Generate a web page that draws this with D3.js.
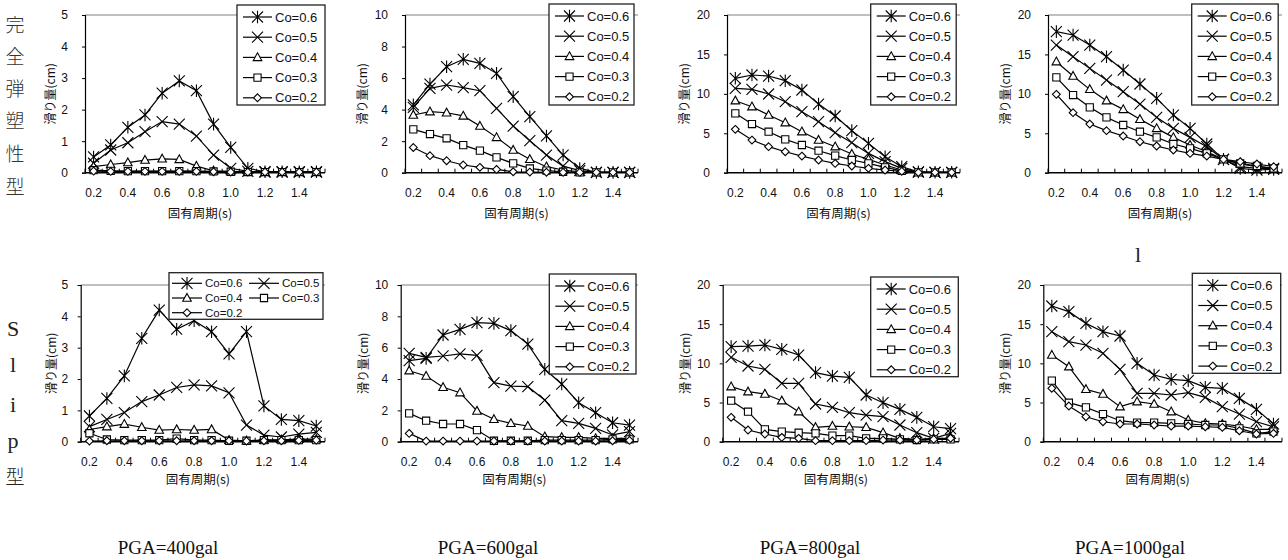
<!DOCTYPE html>
<html><head><meta charset="utf-8">
<script src="https://cdn.jsdelivr.net/npm/d3@7"></script>
<style>body{margin:0;background:#fff}svg{display:block}</style>
</head><body><svg id="c" width="1288" height="560"></svg>
<script>
// ---------------- data ----------------
const periods = ["0.2","0.3","0.4","0.5","0.6","0.7","0.8","0.9","1.0","1.1","1.2","1.3","1.4","1.5"];
const xTickLabels = ["0.2","0.4","0.6","0.8","1.0","1.2","1.4"];
const seriesNames = ["Co=0.6","Co=0.5","Co=0.4","Co=0.3","Co=0.2"];
const yMaxes = [5, 10, 20, 20, 5, 10, 20, 20];
const yTicks5 = [0, 1, 2, 3, 4, 5];
const yTicks10 = [0, 2, 4, 6, 8, 10];
const yTicks20 = [0, 5, 10, 15, 20];
const xTitle = "固有周期(s)";
const yTitle = "滑り量(cm)";
const rowLabelTop = ["完","全","弾","塑","性","型"];
const rowLabelBottom = ["S","l","i","p","型"];
const pgaLabels = ["PGA=400gal","PGA=600gal","PGA=800gal","PGA=1000gal"];
const strayLabel = "l";

// 完全弾塑性型 (elastic-perfectly-plastic)
const ep400 = [
  [0.50,0.88,1.44,1.83,2.52,2.91,2.60,1.54,0.80,0.14,0.03,0.03,0.03,0.03],
  [0.30,0.72,0.95,1.30,1.62,1.54,1.16,0.56,0.14,0.04,0.02,0.02,0.02,0.02],
  [0.19,0.26,0.32,0.40,0.44,0.42,0.21,0.06,0.04,0.03,0.02,0.02,0.02,0.02],
  [0.08,0.06,0.05,0.05,0.05,0.05,0.05,0.04,0.03,0.02,0.02,0.02,0.02,0.02],
  [0.05,0.04,0.04,0.04,0.04,0.04,0.04,0.03,0.02,0.02,0.02,0.02,0.02,0.02]];
const ep600 = [
  [4.30,5.62,6.72,7.19,6.93,6.30,4.82,3.55,2.33,1.12,0.27,0.02,0.02,0.02],
  [4.14,5.35,5.56,5.39,5.20,4.08,2.96,2.03,1.12,0.42,0.13,0.02,0.02,0.02],
  [3.66,3.87,3.80,3.60,2.96,2.24,1.44,0.85,0.38,0.17,0.06,0.02,0.02,0.02],
  [2.75,2.45,2.18,1.75,1.40,0.97,0.59,0.27,0.13,0.06,0.02,0.02,0.02,0.02],
  [1.60,1.08,0.76,0.49,0.34,0.21,0.06,0.04,0.03,0.02,0.02,0.02,0.02,0.02]];
const ep800 = [
  [11.97,12.39,12.26,11.67,10.49,8.71,7.19,5.33,3.72,2.03,0.76,0.10,0.05,0.05],
  [10.70,10.57,9.98,9.00,7.74,6.47,5.07,3.81,2.45,1.40,0.55,0.08,0.05,0.05],
  [9.13,8.37,7.31,6.34,5.20,4.14,3.30,2.37,1.69,0.97,0.34,0.05,0.03,0.03],
  [7.53,6.17,5.20,4.23,3.51,2.79,2.16,1.61,1.18,0.68,0.25,0.04,0.03,0.03],
  [5.50,4.14,3.30,2.66,2.11,1.61,1.18,0.85,0.55,0.34,0.17,0.03,0.03,0.03]];
const ep1000 = [
  [17.89,17.46,16.19,14.71,13.02,11.25,9.43,7.31,5.62,3.64,1.69,0.55,0.34,0.42],
  [16.19,14.71,13.23,11.75,10.27,8.71,7.02,5.62,4.48,3.30,1.69,0.76,0.55,0.55],
  [14.08,12.26,10.57,9.13,8.03,6.77,5.62,4.48,3.51,2.66,1.69,1.10,0.76,0.55],
  [12.09,9.85,8.29,7.02,6.05,5.20,4.48,3.64,3.09,2.45,1.69,1.18,0.85,0.55],
  [9.94,7.61,6.17,5.33,4.65,3.93,3.38,2.88,2.45,2.11,1.69,1.40,1.10,0.76]];
// Slip型
const sl400 = [
  [0.82,1.38,2.10,3.30,4.20,3.59,3.86,3.51,2.80,3.51,1.14,0.71,0.67,0.50],
  [0.48,0.71,0.93,1.28,1.49,1.73,1.81,1.78,1.56,0.53,0.21,0.15,0.24,0.30],
  [0.39,0.48,0.56,0.46,0.37,0.39,0.37,0.39,0.05,0.03,0.05,0.06,0.08,0.08],
  [0.27,0.07,0.05,0.05,0.05,0.10,0.05,0.05,0.03,0.03,0.05,0.05,0.05,0.05],
  [0.02,0.03,0.03,0.03,0.03,0.03,0.03,0.03,0.03,0.02,0.03,0.03,0.04,0.05]];
const sl600 = [
  [5.17,5.32,6.81,7.17,7.60,7.55,7.09,6.23,4.62,3.68,2.49,1.85,1.21,1.06],
  [5.64,5.38,5.47,5.60,5.51,3.77,3.55,3.51,2.66,1.34,1.17,0.85,0.43,0.64],
  [4.53,4.19,3.47,3.13,1.96,1.43,1.17,1.00,0.32,0.28,0.28,0.21,0.21,0.21],
  [1.81,1.34,1.13,1.13,0.74,0.06,0.06,0.06,0.10,0.10,0.10,0.10,0.15,0.15],
  [0.53,0.04,0.04,0.04,0.04,0.04,0.04,0.04,0.04,0.04,0.04,0.04,0.06,0.08]];
const sl800 = [
  [12.13,12.21,12.34,11.79,11.06,8.81,8.38,8.21,5.96,4.98,4.13,3.11,1.91,1.66],
  [10.77,9.66,9.23,7.45,7.45,4.81,4.38,3.70,3.40,3.19,2.13,1.15,0.43,1.06],
  [7.02,6.38,6.09,5.23,3.83,1.83,2.00,1.91,1.83,1.15,0.43,0.30,0.43,0.43],
  [5.23,3.83,1.57,1.28,1.15,1.06,0.77,0.77,0.43,0.43,0.30,0.21,0.30,0.30],
  [3.11,1.49,0.98,0.55,0.43,0.13,0.13,0.13,0.13,0.21,0.21,0.21,0.30,0.43]];
const sl1000 = [
  [17.32,16.60,15.10,14.04,13.49,10.00,8.51,7.96,7.79,6.94,6.81,5.53,4.13,2.26],
  [14.04,12.77,12.34,11.28,9.23,6.17,6.17,5.96,6.26,5.66,4.47,3.53,2.55,1.91],
  [11.06,9.57,6.68,6.09,4.47,5.11,4.81,3.83,2.77,2.34,2.26,2.00,1.57,1.57],
  [7.79,4.98,4.38,3.53,2.68,2.43,2.43,2.34,2.26,2.13,2.13,1.70,1.06,1.28],
  [6.81,4.55,3.19,2.55,2.26,2.26,2.13,2.00,2.00,1.91,1.83,1.40,0.98,1.06]];

const panelData = [ep400, ep600, ep800, ep1000, sl400, sl600, sl800, sl1000];
const panelTicks = [yTicks5, yTicks10, yTicks20, yTicks20, yTicks5, yTicks10, yTicks20, yTicks20];

// ---------------- layout ----------------
const layout = [
  {l:85,   r:325,  t:15,  b:172.7, gap:17,   lg:{x:237,   y:5,     w:88,  h:100, rows:1}},
  {l:405,  r:638,  t:15,  b:172.7, gap:17,   lg:{x:549,   y:4,     w:85,  h:101, rows:1}},
  {l:727,  r:960,  t:15,  b:172.7, gap:17,   lg:{x:870.7, y:4,     w:85.5,h:101, rows:1}},
  {l:1048, r:1282, t:15,  b:172.7, gap:17,   lg:{x:1191.7,y:4,     w:86.5,h:101, rows:1}},
  {l:80.7, r:325,  t:285, b:441.7, gap:12.4, lg:{x:169,   y:272.7, w:154, h:46.6,rows:3}},
  {l:400.7,r:638,  t:285, b:441.7, gap:12.4, lg:{x:549.3, y:274,   w:86.7,h:100, rows:1}},
  {l:722.7,r:959,  t:285, b:441.7, gap:12.4, lg:{x:870.7, y:277,   w:87.6,h:99.7,rows:1}},
  {l:1043.3,r:1282,t:285, b:441.7, gap:12.4, lg:{x:1192.3,y:273.3, w:88.4,h:100, rows:1}}
];
const pgaX = [168, 488, 810, 1130];
const latin = "'Liberation Sans', Arial, sans-serif";
const cjk = "'Noto Sans CJK JP', 'Liberation Sans', sans-serif";
const serif = "'Liberation Serif', 'Times New Roman', serif";

const svg = d3.select("#c");

function markerPath(i) {
  switch (i) {
    case 0: { const s = 5.5; return `M${-s},${-s}L${s},${s}M${-s},${s}L${s},${-s}M0,${-s-0.8}L0,${s+0.8}`; }
    case 1: { const s = 5.5; return `M${-s},${-s}L${s},${s}M${-s},${s}L${s},${-s}`; }
    case 2: return "M0,-4.6L4.3,3.2L-4.3,3.2Z";
    case 3: return "M-3.6,-3.6H3.6V3.6H-3.6Z";
    default: return "M0,-3.9L3.9,0L0,3.9L-3.9,0Z";
  }
}

panelData.forEach((data, pi) => {
  const L = layout[pi];
  const g = svg.append("g");
  const x = d3.scalePoint().domain(periods).range([L.l, L.r]).padding(0.5);
  const y = d3.scaleLinear().domain([0, yMaxes[pi]]).range([L.b, L.t]);
  const step = x.step();

  // plot frame top (gray)
  g.append("line").attr("x1", L.l).attr("x2", L.r).attr("y1", L.t).attr("y2", L.t)
    .attr("stroke", "#808080").attr("stroke-width", 1.2);

  // y axis
  const yAxis = d3.axisLeft(y).tickValues(panelTicks[pi]).tickSize(3).tickPadding(L.gap - 3)
    .tickFormat(d3.format("d"));
  const ya = g.append("g").attr("transform", `translate(${L.l},0)`).call(yAxis);
  ya.select(".domain").attr("stroke", "#000").attr("stroke-width", 1.2);
  ya.selectAll(".tick line").attr("stroke", "#000");
  ya.selectAll(".tick text").attr("font-family", latin).attr("font-size", 12).attr("fill", "#111");

  // x axis (category axis: ticks between categories, labels every other)
  const xa = g.append("g").attr("transform", `translate(0,${L.b})`);
  xa.append("line").attr("x1", L.l).attr("x2", L.r).attr("stroke", "#000").attr("stroke-width", 1.6);
  const bounds = d3.range(periods.length + 1).map(i => L.l + i * step + (x(periods[0]) - step / 2 - L.l));
  xa.selectAll("line.tk").data(bounds).join("line").attr("class", "tk")
    .attr("x1", d => d).attr("x2", d => d).attr("y1", 0).attr("y2", -4)
    .attr("stroke", "#000").attr("stroke-width", 1);
  xa.selectAll("text").data(xTickLabels).join("text")
    .attr("x", d => x(d)).attr("y", 24).attr("text-anchor", "middle")
    .attr("font-family", latin).attr("font-size", 12).attr("fill", "#111").text(d => d);

  // axis titles
  g.append("text").attr("x", (L.l + L.r) / 2 - 5).attr("y", L.b + (pi < 4 ? 45 : 42))
    .attr("text-anchor", "middle").attr("font-family", cjk).attr("font-size", 12.5)
    .attr("fill", "#111").text(xTitle);
  const ytx = L.l - L.gap - (yMaxes[pi] >= 10 ? 25 : 17);
  g.append("text").attr("transform", `translate(${ytx},${(L.t + L.b) / 2}) rotate(-90)`)
    .attr("text-anchor", "middle").attr("dy", "0.35em").attr("font-family", cjk).attr("font-size", 12)
    .attr("fill", "#111").text(yTitle);

  // series lines & markers
  const line = d3.line().x((d, i) => x(periods[i])).y(d => y(d));
  data.forEach((vals, si) => {
    g.append("path").attr("d", line(vals)).attr("fill", "none")
      .attr("stroke", "#000").attr("stroke-width", 1.2);
  });
  data.forEach((vals, si) => {
    g.selectAll(null).data(vals).join("path")
      .attr("transform", (d, i) => `translate(${x(periods[i])},${y(d)})`)
      .attr("d", markerPath(si)).attr("fill", si >= 2 ? "#fff" : "none")
      .attr("stroke", "#000").attr("stroke-width", 1.1);
  });

  // legend
  const lg = L.lg;
  const lgG = g.append("g");
  lgG.append("rect").attr("x", lg.x).attr("y", lg.y).attr("width", lg.w).attr("height", lg.h)
    .attr("fill", "#fff").attr("stroke", "#222").attr("stroke-width", 1.3);
  seriesNames.forEach((name, si) => {
    let lx, ly, lineW, fs;
    if (lg.rows === 3) {
      const col = si % 2, row = Math.floor(si / 2);
      lx = lg.x + 3 + col * 77; ly = lg.y + 10.6 + row * 14.7; lineW = 30; fs = 11.5;
    } else {
      lx = lg.x + 6; ly = lg.y + 12 + si * 20.2; lineW = 29; fs = 13;
    }
    lgG.append("line").attr("x1", lx).attr("x2", lx + lineW).attr("y1", ly).attr("y2", ly)
      .attr("stroke", "#000").attr("stroke-width", 1.2);
    lgG.append("path").attr("transform", `translate(${lx + lineW / 2},${ly})`)
      .attr("d", markerPath(si)).attr("fill", si >= 2 ? "#fff" : "none")
      .attr("stroke", "#000").attr("stroke-width", 1.1);
    lgG.append("text").attr("x", lx + lineW + 3).attr("y", ly).attr("dy", "0.36em")
      .attr("font-family", latin).attr("font-size", fs).attr("fill", "#111").text(name);
  });
});

// row labels
const topYs = [25, 57, 89, 121, 154, 187];
svg.selectAll("text.rl1").data(rowLabelTop).join("text").attr("class", "rl1")
  .attr("x", 15).attr("y", (d, i) => topYs[i]).attr("dy", "0.36em").attr("text-anchor", "middle")
  .attr("font-family", cjk).attr("font-size", 19).attr("font-weight", 300).attr("fill", "#333").text(d => d);
const botYs = [336, 372, 412, 448, 484];
svg.selectAll("text.rl2").data(rowLabelBottom).join("text").attr("class", "rl2")
  .attr("x", (d, i) => i === 4 ? 15 : 13).attr("y", (d, i) => botYs[i]).attr("text-anchor", "middle")
  .attr("font-family", (d, i) => i === 4 ? cjk : serif).attr("font-size", (d, i) => i === 4 ? 19 : 22)
  .attr("font-weight", (d, i) => i === 4 ? 300 : 400).attr("fill", "#222").text(d => d);

// stray "l"
svg.append("text").attr("x", 1138).attr("y", 262).attr("text-anchor", "middle")
  .attr("font-family", serif).attr("font-size", 22).attr("fill", "#222").text(strayLabel);

// PGA labels
svg.selectAll("text.pga").data(pgaLabels).join("text").attr("class", "pga")
  .attr("x", (d, i) => pgaX[i]).attr("y", 554).attr("text-anchor", "middle")
  .attr("font-family", serif).attr("font-size", 19).attr("fill", "#111").text(d => d);
</script>
</body></html>
